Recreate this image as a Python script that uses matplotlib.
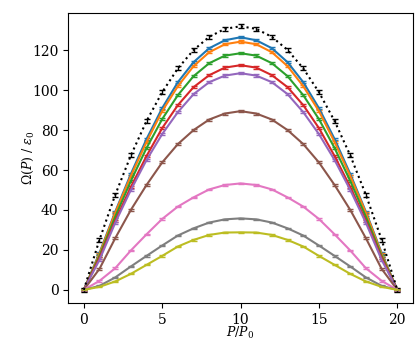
import matplotlib
matplotlib.use("Agg")
import matplotlib.pyplot as plt

plt.rcParams["font.family"] = "DejaVu Serif"
plt.rcParams["mathtext.fontset"] = "dejavuserif"

P = list(range(21))

# valeurs lues pour P/P0 = 0..10 (courbes symétriques autour de 10)
omega_half = {
    "C0": [0, 18.5, 39.0, 58.0, 75.5, 91.0, 104.0, 114.0, 121.0, 125.0, 126.5],
    "C1": [0, 18.0, 38.5, 57.0, 74.0, 89.5, 102.0, 112.0, 119.0, 123.0, 124.3],
    "C2": [0, 17.0, 36.5, 54.5, 71.0, 85.5, 97.5, 107.0, 113.5, 117.3, 118.5],
    "C3": [0, 16.0, 34.5, 51.5, 67.0, 81.0, 92.5, 101.5, 107.5, 111.3, 112.5],
    "C4": [0, 15.0, 33.5, 50.0, 65.0, 78.0, 89.0, 98.0, 104.0, 107.3, 108.5],
    "C5": [0, 10.5, 25.8, 40.0, 52.5, 63.8, 73.0, 80.0, 85.3, 88.3, 89.5],
    "C6": [0, 4.5, 10.8, 19.7, 27.8, 35.5, 41.7, 46.3, 50.3, 52.5, 53.3],
    "C7": [0, 2.0, 6.2, 11.7, 17.0, 22.2, 27.2, 30.8, 33.7, 35.3, 35.8],
    "C8": [0, 1.5, 4.2, 8.0, 12.5, 17.0, 21.7, 25.0, 27.5, 28.7, 28.8],
}
erreurs = {"C0": 0.6, "C1": 0.6, "C2": 0.6, "C3": 0.6, "C4": 0.6,
           "C5": 0.5, "C6": 0.4, "C7": 0.3, "C8": 0.3}

limite_half = [0, 25.1, 47.5, 67.3, 84.5, 99.0, 110.9, 120.1, 126.7, 130.7, 132.0]
limite_err = 1.0


def complet(moitie):
    return moitie + moitie[-2::-1]


fig = plt.figure(figsize=(4.18, 3.54), dpi=100)
ax = fig.add_axes([0.163, 0.144, 0.825, 0.819])

for c, moitie in omega_half.items():
    ax.errorbar(P, complet(moitie), yerr=erreurs[c], color=c, linewidth=1.5,
                elinewidth=1.0, capsize=2.5, capthick=1.0)

ax.errorbar(P, complet(limite_half), yerr=limite_err, color="k", linestyle=":",
            linewidth=1.5, elinewidth=1.0, capsize=2.5, capthick=1.0)

ax.set_xlabel(r"$P/P_0$", fontsize=9, labelpad=-1)
ax.set_ylabel(r"$\Omega(P)\ /\ \epsilon_0$", fontsize=9, labelpad=-3)
ax.set_xticks([0, 5, 10, 15, 20])
ax.set_yticks([0, 20, 40, 60, 80, 100, 120])
ax.set_ylim(-6.6, 138.6)

fig.savefig("out.png", dpi=100)
